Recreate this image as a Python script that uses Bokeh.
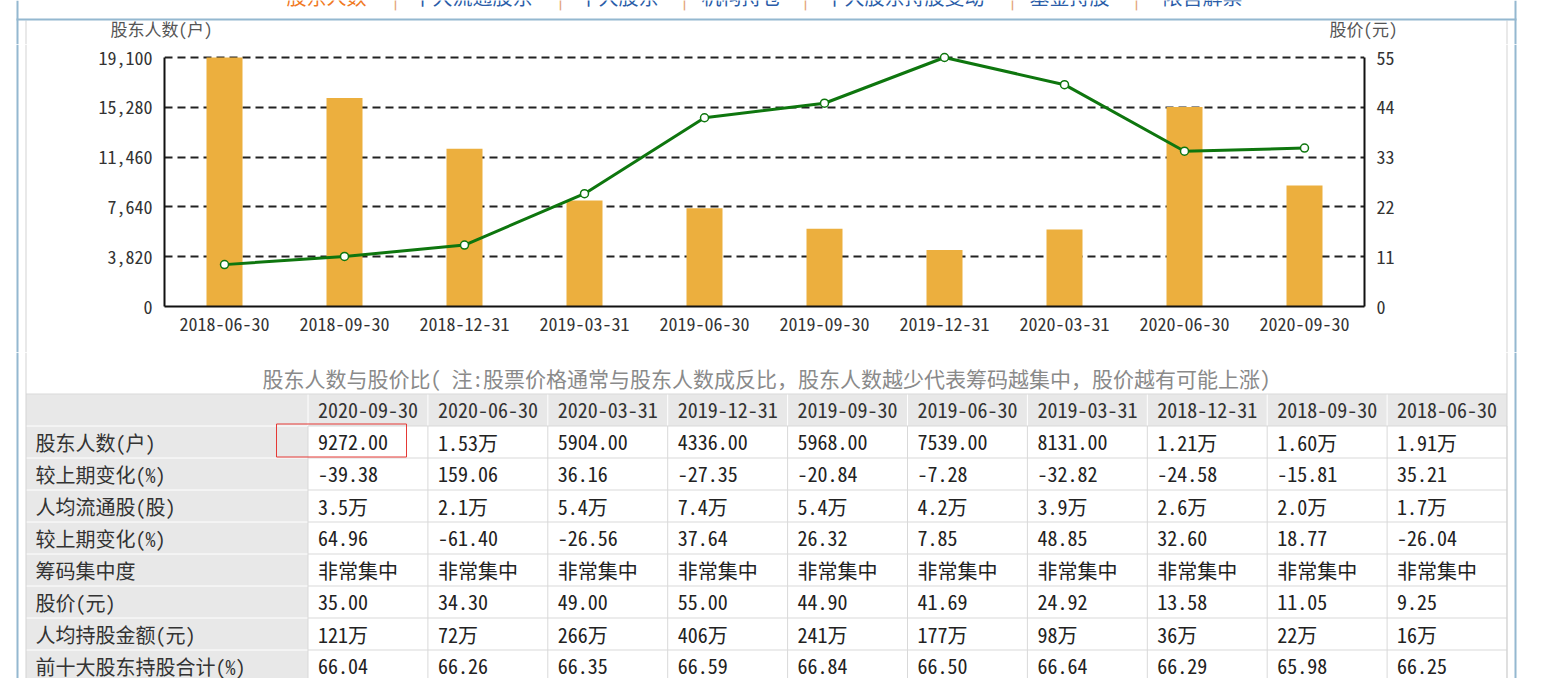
from bokeh.plotting import figure
from bokeh.models import Range1d, FactorRange, LinearAxis, FixedTicker, NumeralTickFormatter
from bokeh.layouts import column, row
from bokeh.embed import file_html
from bokeh.resources import INLINE
from bokeh.core.properties import value

# ---------------- data ----------------
tabs = ["股东人数", "十大流通股东", "十大股东", "机构持仓", "十大股东持股变动", "基金持股", "限售解禁"]
chart_dates = ["2018-06-30", "2018-09-30", "2018-12-31", "2019-03-31", "2019-06-30",
               "2019-09-30", "2019-12-31", "2020-03-31", "2020-06-30", "2020-09-30"]
holders = [19100, 16000, 12100, 8131, 7539, 5968, 4336, 5904, 15300, 9272]
prices = [9.25, 11.05, 13.58, 24.92, 41.69, 44.90, 55.00, 49.00, 34.30, 35.00]
left_ticks = [0, 3820, 7640, 11460, 15280, 19100]
right_ticks = [0, 11, 22, 33, 44, 55]
left_title = "股东人数(户)"
right_title = "股价(元)"
caption = "股东人数与股价比( 注:股票价格通常与股东人数成反比，股东人数越少代表筹码越集中，股价越有可能上涨)"

table_dates = ["2020-09-30", "2020-06-30", "2020-03-31", "2019-12-31", "2019-09-30",
               "2019-06-30", "2019-03-31", "2018-12-31", "2018-09-30", "2018-06-30"]
row_labels = ["股东人数(户)", "较上期变化(%)", "人均流通股(股)", "较上期变化(%)",
              "筹码集中度", "股价(元)", "人均持股金额(元)", "前十大股东持股合计(%)"]
holders_txt = ["9272.00", "1.53万", "5904.00", "4336.00", "5968.00", "7539.00", "8131.00", "1.21万", "1.60万", "1.91万"]
holders_chg = ["-39.38", "159.06", "36.16", "-27.35", "-20.84", "-7.28", "-32.82", "-24.58", "-15.81", "35.21"]
float_per = ["3.5万", "2.1万", "5.4万", "7.4万", "5.4万", "4.2万", "3.9万", "2.6万", "2.0万", "1.7万"]
float_chg = ["64.96", "-61.40", "-26.56", "37.64", "26.32", "7.85", "48.85", "32.60", "18.77", "-26.04"]
concentration = ["非常集中"] * 10
price_txt = ["35.00", "34.30", "49.00", "55.00", "44.90", "41.69", "24.92", "13.58", "11.05", "9.25"]
value_per = ["121万", "72万", "266万", "406万", "241万", "177万", "98万", "36万", "22万", "16万"]
top10 = ["66.04", "66.26", "66.35", "66.59", "66.84", "66.50", "66.64", "66.29", "65.98", "66.25"]
table_rows = [holders_txt, holders_chg, float_per, float_chg, concentration, price_txt, value_per, top10]

# ---------------- style ----------------
FONT = "'Noto Sans Mono CJK SC', 'Noto Sans CJK SC', sans-serif"
BAR = "#ecaf3e"
GREEN = "#0e760e"
BLUE = "#94b8d0"
GRAYLINE = "#d3d3d3"
CELLGRAY = "#e8e8e8"
CELLLINE = "#d9d9d9"

PAGE_W, PAGE_H = 1563, 678


def blank(width, height, x0, x1, y0, y1):
    f = figure(width=width, height=height, x_range=Range1d(x0, x1), y_range=Range1d(y1, y0),
               x_axis_type=None, y_axis_type=None, min_border=0, title=None,
               output_backend="svg", toolbar_location=None)
    f.outline_line_color = None
    f.background_fill_color = "white"
    f.border_fill_color = "white"
    return f


def borders(f, y0, y1):
    f.segment(x0=[17, 1515], y0=[y0, y0], x1=[17, 1515], y1=[y1, y1], line_color=BLUE, line_width=2)
    f.segment(x0=[25.5, 1506.5], y0=[max(y0, 20), max(y0, 20)], x1=[25.5, 1506.5], y1=[y1, y1],
              line_color=GRAYLINE, line_width=1)


# ---------------- band A: tabs, header line, axis titles ----------------
A_TOP, A_BOT = 0, 44
a = blank(PAGE_W, A_BOT - A_TOP, 0, PAGE_W, A_TOP, A_BOT)
borders(a, A_TOP, A_BOT)
a.segment(x0=[16], y0=[19], x1=[1516], y1=[19], line_color=BLUE, line_width=2)
tab_x = [286, 412, 578, 701, 824, 1029, 1162]
sep_x = [395, 560, 684, 805, 1012, 1136]
a.text(x=tab_x, y=[-4] * len(tabs), text=tabs, text_font=value(FONT), text_font_size="20px",
       text_color=["#f07822"] + ["#2a5ca8"] * (len(tabs) - 1), text_align="left", text_baseline="middle")
a.text(x=sep_x, y=[-4] * len(sep_x), text=["|"] * len(sep_x), text_font=value(FONT), text_font_size="20px",
       text_color="#e3a57a", text_align="center", text_baseline="middle")
a.text(x=[110], y=[27.5], text=[left_title], text_font=value(FONT), text_font_size="17px",
       text_color="#555555", text_align="left", text_baseline="middle")
a.text(x=[1329], y=[27.5], text=[right_title], text_font=value(FONT), text_font_size="17px",
       text_color="#555555", text_align="left", text_baseline="middle")

# ---------------- band B: chart ----------------
B_TOP, B_BOT = 44, 352
B_L, B_R = 30, 1500
bl = blank(B_L, B_BOT - B_TOP, 0, B_L, B_TOP, B_BOT)
borders(bl, B_TOP, B_BOT)
br = blank(PAGE_W - B_R, B_BOT - B_TOP, B_R, PAGE_W, B_TOP, B_BOT)
borders(br, B_TOP, B_BOT)

FR_L, FR_R = 164, 1364
FR_TOP, FR_BOT = 50, 306          # frame in page px
GRID_TOP = 57                     # pixel of top tick
pad = (FR_BOT - FR_TOP) / (FR_BOT - GRID_TOP)

p = figure(width=B_R - B_L, height=B_BOT - B_TOP,
           x_range=FactorRange(*chart_dates), y_range=Range1d(0, left_ticks[-1] * pad),
           output_backend="svg", toolbar_location=None, title=None,
           min_border_left=FR_L - B_L, min_border_right=B_R - FR_R,
           min_border_top=FR_TOP - B_TOP, min_border_bottom=B_BOT - FR_BOT)
p.x_range.range_padding = 0
p.outline_line_color = None
p.extra_y_ranges = {"price": Range1d(0, right_ticks[-1] * pad)}

p.vbar(x=chart_dates, top=holders, width=0.3, fill_color=BAR, line_color=None)
p.line(x=chart_dates, y=prices, y_range_name="price", line_color=GREEN, line_width=3)
p.scatter(x=chart_dates, y=prices, y_range_name="price", size=8, fill_color="white",
          line_color=GREEN, line_width=1.5)

p.xgrid.visible = False
p.ygrid.ticker = FixedTicker(ticks=left_ticks)
p.ygrid.grid_line_color = "#222222"
p.ygrid.grid_line_dash = "8 5"
p.ygrid.grid_line_width = 2

yl = p.yaxis[0]
yl.ticker = FixedTicker(ticks=left_ticks)
yl.formatter = NumeralTickFormatter(format="0,0")
yl.bounds = (0, left_ticks[-1])

yr = LinearAxis(y_range_name="price", ticker=FixedTicker(ticks=right_ticks), bounds=(0, right_ticks[-1]))
p.add_layout(yr, "right")

for ax in [yl, yr, p.xaxis[0]]:
    ax.axis_line_color = "#111111"
    ax.axis_line_width = 2
    ax.major_tick_line_color = None
    ax.minor_tick_line_color = None
    ax.major_tick_out = 0
    ax.major_tick_in = 0
    ax.major_label_text_font = FONT
    ax.major_label_text_font_size = "18px"
    ax.major_label_text_color = "#333333"
yl.major_label_standoff = 12
yr.major_label_standoff = 12
p.xaxis[0].major_label_standoff = 10

# ---------------- band D: caption + table ----------------
D_TOP, D_BOT = 352, PAGE_H
d = blank(PAGE_W, D_BOT - D_TOP, 0, PAGE_W, D_TOP, D_BOT)

d.text(x=[766], y=[377], text=[caption], text_font=value(FONT), text_font_size="21px",
       text_color="#8a8a8a", text_align="center", text_baseline="middle")

T_LEFT, T_RIGHT, LABEL_RIGHT = 25.5, 1506.5, 307.5
T_TOP, ROW_H = 393.5, 32
n_cols = len(table_dates)
col_w = (T_RIGHT - LABEL_RIGHT) / n_cols
col_edges = [LABEL_RIGHT + i * col_w for i in range(n_cols + 1)]
n_rows = len(row_labels)
row_edges = [T_TOP + ROW_H * (i + 1) for i in range(n_rows + 1)]
T_BOT = row_edges[-1]

d.quad(left=[T_LEFT, T_LEFT], right=[T_RIGHT, LABEL_RIGHT], top=[T_TOP, T_TOP + ROW_H],
       bottom=[T_TOP + ROW_H, T_BOT], fill_color=CELLGRAY, line_color=None)
d.segment(x0=[T_LEFT] * n_rows, y0=row_edges[:-1], x1=[LABEL_RIGHT] * n_rows, y1=row_edges[:-1],
          line_color="white", line_width=1)
d.segment(x0=col_edges[:-1], y0=[T_TOP] * n_cols, x1=col_edges[:-1], y1=[T_TOP + ROW_H] * n_cols,
          line_color="white", line_width=1)
d.segment(x0=[LABEL_RIGHT] * n_rows, y0=row_edges[:-1], x1=[T_RIGHT] * n_rows, y1=row_edges[:-1],
          line_color=CELLLINE, line_width=1)
d.segment(x0=col_edges, y0=[T_TOP + ROW_H] * (n_cols + 1), x1=col_edges, y1=[T_BOT] * (n_cols + 1),
          line_color=CELLLINE, line_width=1)
d.segment(x0=[T_LEFT], y0=[T_TOP], x1=[T_RIGHT], y1=[T_TOP], line_color=CELLLINE, line_width=1)

borders(d, D_TOP, D_BOT)

d.text(x=[e + 10 for e in col_edges[:-1]], y=[T_TOP + ROW_H / 2] * n_cols, text=table_dates,
       text_font=value(FONT), text_font_size="20px", text_color="#333333",
       text_align="left", text_baseline="middle")
d.text(x=[35] * n_rows, y=[T_TOP + ROW_H * (i + 1.5) for i in range(n_rows)], text=row_labels,
       text_font=value(FONT), text_font_size="20px", text_color="#333333",
       text_align="left", text_baseline="middle")
xs, ys, ts = [], [], []
for ri, vals in enumerate(table_rows):
    for ci, v in enumerate(vals):
        xs.append(col_edges[ci] + 10)
        ys.append(T_TOP + ROW_H * (ri + 1.5))
        ts.append(v)
d.text(x=xs, y=ys, text=ts, text_font=value(FONT), text_font_size="20px", text_color="#222222",
       text_align="left", text_baseline="middle")

d.quad(left=[276], right=[406], top=[423.5], bottom=[456.5], fill_color=None,
       line_color="#e53935", line_width=1)

layout = column(a, row(column(bl), p, column(br)), d)
open("out.html", "w").write(file_html(layout, INLINE))
